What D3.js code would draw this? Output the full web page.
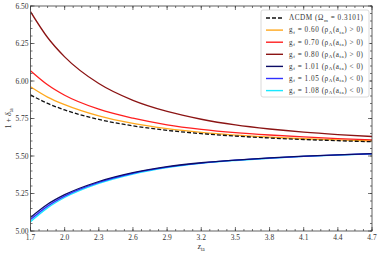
<!DOCTYPE html>
<html><head><meta charset="utf-8">
<script src="https://cdn.jsdelivr.net/npm/d3@7"></script>
<style>body{margin:0;background:#fff;}svg{display:block;font-family:"Liberation Serif",serif;}</style>
</head><body><svg id="c" width="382" height="255"></svg>
<script>
const zVals = [1.7, 1.85, 2.0, 2.3, 2.6, 2.9, 3.2, 3.5, 3.8, 4.1, 4.4, 4.7];
const lcdm   = [5.907, 5.851, 5.807, 5.744, 5.701, 5.671, 5.649, 5.633, 5.620, 5.610, 5.602, 5.595];
const g060   = [5.962, 5.893, 5.842, 5.767, 5.717, 5.682, 5.657, 5.639, 5.626, 5.615, 5.607, 5.600];
const g070   = [6.069, 5.975, 5.905, 5.812, 5.752, 5.708, 5.678, 5.656, 5.640, 5.627, 5.616, 5.607];
const g080   = [6.462, 6.290, 6.161, 5.983, 5.871, 5.797, 5.745, 5.707, 5.680, 5.659, 5.643, 5.630];
const g101   = [5.090, 5.178, 5.242, 5.330, 5.389, 5.429, 5.455, 5.473, 5.487, 5.499, 5.508, 5.516];
const g105   = [5.076, 5.166, 5.233, 5.324, 5.385, 5.426, 5.453, 5.472, 5.486, 5.498, 5.507, 5.515];
const g108   = [5.062, 5.154, 5.223, 5.317, 5.380, 5.423, 5.451, 5.470, 5.485, 5.497, 5.506, 5.514];
const xTicks = [1.7, 2.0, 2.3, 2.6, 2.9, 3.2, 3.5, 3.8, 4.1, 4.4, 4.7];
const yTicks = [5.00, 5.25, 5.50, 5.75, 6.00, 6.25, 6.50];

const series = [
  {v: lcdm, c: "#111111", dash: "4,2", lab: ["ΛCDM (Ω", "m", " = 0.3101)"]},
  {v: g060, c: "#ffa81e", lab: ["g", "f", " = 0.60 (ρ", "Λ", "(a", "ta", ") > 0)"]},
  {v: g070, c: "#ff2020", lab: ["g", "f", " = 0.70 (ρ", "Λ", "(a", "ta", ") > 0)"]},
  {v: g080, c: "#8b1414", lab: ["g", "f", " = 0.80 (ρ", "Λ", "(a", "ta", ") > 0)"]},
  {v: g101, c: "#0c0c66", lab: ["g", "f", " = 1.01 (ρ", "Λ", "(a", "ta", ") < 0)"]},
  {v: g105, c: "#3030ff", lab: ["g", "f", " = 1.05 (ρ", "Λ", "(a", "ta", ") < 0)"]},
  {v: g108, c: "#1ae8ff", lab: ["g", "f", " = 1.08 (ρ", "Λ", "(a", "ta", ") < 0)"]},
];

const L = 30.5, R = 372, T = 6, B = 231;
const x = d3.scaleLinear().domain([1.7, 4.7]).range([L, R]);
const y = d3.scaleLinear().domain([5.0, 6.5]).range([B, T]);
const svg = d3.select("#c");
const axCol = "#3a3a3a";

// curves
const line = d3.line().x(d => x(d[0])).y(d => y(d[1])).curve(d3.curveMonotoneX);
svg.append("clipPath").attr("id", "clp").append("rect").attr("x", L).attr("y", T).attr("width", R - L).attr("height", B - T);
const order = [6, 5, 4, 1, 2, 3, 0];
order.forEach(i => {
  const s = series[i];
  svg.append("path").attr("d", line(zVals.map((z, k) => [z, s.v[k]])))
    .attr("fill", "none").attr("stroke", s.c).attr("stroke-width", 1.3)
    .attr("stroke-dasharray", s.dash || null).attr("clip-path", "url(#clp)");
});

// frame
svg.append("rect").attr("x", L).attr("y", T).attr("width", R - L).attr("height", B - T)
  .attr("fill", "none").attr("stroke", axCol).attr("stroke-width", 0.8);

// ticks
const g = svg.append("g").attr("stroke", axCol).attr("stroke-width", 0.7);
const xMinor = d3.range(0, 41).map(i => 1.7 + i * 0.075);
xMinor.forEach(v => {
  g.append("line").attr("x1", x(v)).attr("x2", x(v)).attr("y1", B).attr("y2", B - 2);
  g.append("line").attr("x1", x(v)).attr("x2", x(v)).attr("y1", T).attr("y2", T + 2);
});
xTicks.forEach(v => {
  g.append("line").attr("x1", x(v)).attr("x2", x(v)).attr("y1", B).attr("y2", B - 4);
  g.append("line").attr("x1", x(v)).attr("x2", x(v)).attr("y1", T).attr("y2", T + 4);
});
const yMinor = d3.range(0, 31).map(i => 5.0 + i * 0.05);
yMinor.forEach(v => {
  g.append("line").attr("y1", y(v)).attr("y2", y(v)).attr("x1", L).attr("x2", L + 2);
  g.append("line").attr("y1", y(v)).attr("y2", y(v)).attr("x1", R).attr("x2", R - 2);
});
yTicks.forEach(v => {
  g.append("line").attr("y1", y(v)).attr("y2", y(v)).attr("x1", L).attr("x2", L + 4);
  g.append("line").attr("y1", y(v)).attr("y2", y(v)).attr("x1", R).attr("x2", R - 4);
});

// tick labels
const tl = svg.append("g").attr("font-size", 7.5).attr("fill", "#333");
xTicks.forEach(v => tl.append("text").attr("x", x(v)).attr("y", B + 9).attr("text-anchor", "middle").text(v.toFixed(1)));
yTicks.forEach(v => tl.append("text").attr("x", L - 2).attr("y", y(v) + 2.6).attr("text-anchor", "end").text(v.toFixed(2)));

// axis labels
const xl = svg.append("text").attr("x", (L + R) / 2).attr("y", 249).attr("text-anchor", "middle")
  .attr("font-size", 8).attr("fill", "#333").attr("font-style", "italic");
xl.append("tspan").text("z");
xl.append("tspan").attr("font-size", 5.5).attr("dy", 1.8).attr("font-style", "normal").text("ta");
const yl = svg.append("text").attr("transform", `translate(11,${(T + B) / 2}) rotate(-90)`)
  .attr("text-anchor", "middle").attr("font-size", 8).attr("fill", "#333");
yl.append("tspan").text("1 + ");
yl.append("tspan").attr("font-style", "italic").text("δ");
yl.append("tspan").attr("font-size", 5.5).attr("dy", 1.8).text("ta");

// legend
const lg = svg.append("g");
lg.append("rect").attr("x", 261).attr("y", 10).attr("width", 108).attr("height", 87).attr("rx", 2)
  .attr("fill", "#fff").attr("fill-opacity", 0.9).attr("stroke", "#d0d0d0").attr("stroke-width", 0.8);
series.forEach((s, i) => {
  const yy = 18 + i * 12.1;
  lg.append("line").attr("x1", 266).attr("x2", 283).attr("y1", yy).attr("y2", yy)
    .attr("stroke", s.c).attr("stroke-width", 1.4).attr("stroke-dasharray", s.dash || null);
  const t = lg.append("text").attr("x", 289).attr("y", yy + 2.3).attr("font-size", 7.2)
    .attr("fill", "#333").attr("textLength", 74).attr("lengthAdjust", "spacing");
  s.lab.forEach((part, k) => {
    const sub = k % 2 === 1;
    const ts = t.append("tspan").text(part);
    if (sub) ts.attr("font-size", 5).attr("dy", 1.4);
    else if (k > 0) ts.attr("dy", -1.4);
  });
});
</script></body></html>
